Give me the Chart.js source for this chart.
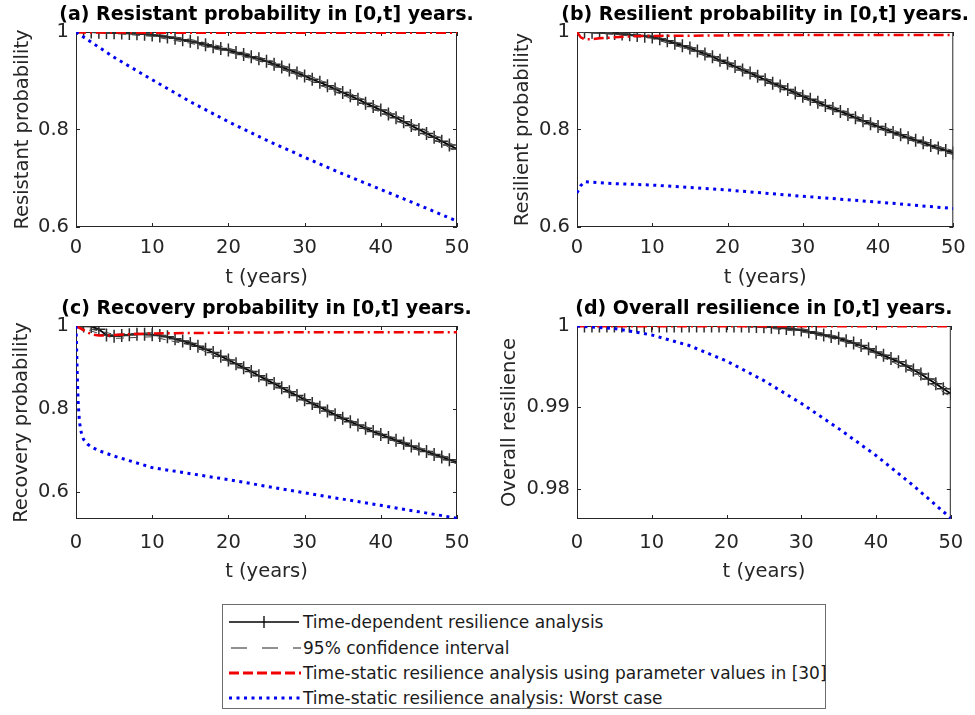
<!DOCTYPE html>
<html>
<head>
<meta charset="utf-8">
<script src="https://cdn.jsdelivr.net/npm/chart.js@4.4.1/dist/chart.umd.min.js"></script>
<style>
  body { margin: 0; background: #fff; width: 975px; height: 715px; position: relative; overflow: hidden; font-family: "DejaVu Sans", sans-serif; }
  .panel { position: absolute; }
  #legend { position: absolute; left: 222px; top: 604px; width: 604px; height: 105px; border: 1px solid #6b6b6b; box-sizing: border-box; background: #fff; }
  #legend .row { position: absolute; left: 5px; height: 25px; display: flex; align-items: center; font-size: 17px; color: #1a1a1a; white-space: nowrap; }
  #legend svg { margin-right: 1px; }
</style>
</head>
<body>
<div class="panel" style="left:0;top:0"><canvas id="chartA" width="487" height="295"></canvas></div>
<div class="panel" style="left:487px;top:0"><canvas id="chartB" width="488" height="295"></canvas></div>
<div class="panel" style="left:0;top:295px"><canvas id="chartC" width="487" height="295"></canvas></div>
<div class="panel" style="left:487px;top:295px"><canvas id="chartD" width="488" height="295"></canvas></div>

<div id="legend">
  <div class="row" style="top:4px">
    <svg width="74" height="14"><line x1="1" y1="7" x2="71" y2="7" stroke="#000" stroke-width="1.3"/><line x1="36" y1="1" x2="36" y2="13" stroke="#000" stroke-width="1.3"/></svg>
    <span>Time-dependent resilience analysis</span>
  </div>
  <div class="row" style="top:30px">
    <svg width="74" height="14"><line x1="3" y1="7" x2="73" y2="7" stroke="#222" stroke-width="1.2" stroke-dasharray="16 15"/></svg>
    <span>95% confidence interval</span>
  </div>
  <div class="row" style="top:55px">
    <svg width="74" height="14"><line x1="1" y1="7" x2="73" y2="7" stroke="#f00000" stroke-width="3" stroke-dasharray="10 4"/></svg>
    <span>Time-static resilience analysis using parameter values in [30]</span>
  </div>
  <div class="row" style="top:80px">
    <svg width="74" height="14"><line x1="1" y1="7" x2="73" y2="7" stroke="#0000f0" stroke-width="3" stroke-dasharray="3 4.5"/></svg>
    <span>Time-static resilience analysis: Worst case</span>
  </div>
</div>

<script>
// ---- data ----
const years = [0, 1, 2, 3, 4, 5, 6, 7, 8, 9, 10, 11, 12, 13, 14, 15, 16, 17, 18, 19, 20,
  21, 22, 23, 24, 25, 26, 27, 28, 29, 30, 31, 32, 33, 34, 35, 36, 37, 38, 39, 40,
  41, 42, 43, 44, 45, 46, 47, 48, 49, 50];
const fiveYears = [0, 5, 10, 15, 20, 25, 30, 35, 40, 45, 50];
const xTicks = [0, 10, 20, 30, 40, 50];
const probTicks = [0.6, 0.8, 1];
const overallTicks = [0.98, 0.99, 1];

// (a) resistant probability
const resistantTD = [1.000, 1.000, 1.000, 0.9995, 0.999, 0.9985, 0.998, 0.997, 0.9965, 0.9955,
  0.994, 0.992, 0.990, 0.987, 0.984, 0.981, 0.978, 0.974, 0.970, 0.966,
  0.963, 0.958, 0.954, 0.949, 0.945, 0.940, 0.934, 0.928, 0.922, 0.916,
  0.910, 0.903, 0.897, 0.890, 0.883, 0.876, 0.869, 0.862, 0.854, 0.847,
  0.840, 0.832, 0.824, 0.816, 0.808, 0.800, 0.792, 0.784, 0.776, 0.768,
  0.760];
const resistantUpper = [1.000, 1.000, 0.997, 0.985, 0.967, 0.944, 0.915, 0.881, 0.845, 0.805, 0.765];
const resistantLower = [1.000, 0.997, 0.991, 0.977, 0.959, 0.936, 0.905, 0.871, 0.835, 0.795, 0.755];
const resistantStatic = [0.999, 0.9988, 0.9987, 0.9986, 0.9986, 0.9985, 0.9985, 0.9985, 0.9984, 0.9984, 0.9984];
const resistantWorst = [1.000, 0.948, 0.902, 0.857, 0.816, 0.778, 0.743, 0.709, 0.677, 0.645, 0.612];

// (b) resilient probability
const resilientTD = [1.000, 1.000, 0.9995, 0.999, 0.998, 0.997, 0.996, 0.9945, 0.993, 0.9915,
  0.990, 0.986, 0.982, 0.977, 0.972, 0.967, 0.961, 0.955, 0.949, 0.942,
  0.936, 0.929, 0.922, 0.916, 0.909, 0.902, 0.895, 0.889, 0.882, 0.875,
  0.868, 0.862, 0.856, 0.849, 0.843, 0.837, 0.831, 0.824, 0.818, 0.812,
  0.806, 0.800, 0.794, 0.789, 0.783, 0.778, 0.773, 0.767, 0.762, 0.757,
  0.752];
const resilientUpper = [1.000, 0.999, 0.993, 0.971, 0.940, 0.906, 0.872, 0.841, 0.810, 0.782, 0.756];
const resilientLower = [1.000, 0.995, 0.987, 0.963, 0.932, 0.898, 0.864, 0.833, 0.802, 0.774, 0.748];
const resilientStaticT = [0, 0.5, 1, 2, 3, 5, 7, 10, 20, 30, 40, 50];
const resilientStatic = [1.000, 0.989, 0.985, 0.985, 0.987, 0.989, 0.991, 0.992, 0.993, 0.994, 0.994, 0.994];
const resilientWorstT = [0, 0.5, 1, 2, 5, 10, 20, 30, 40, 50];
const resilientWorst = [0.670, 0.685, 0.693, 0.692, 0.689, 0.686, 0.676, 0.663, 0.651, 0.638];

// (c) recovery probability
const recoveryTD = [1.000, 1.000, 0.999, 0.992, 0.978, 0.975, 0.977, 0.979, 0.980, 0.980,
  0.979, 0.977, 0.974, 0.969, 0.964, 0.958, 0.951, 0.944, 0.936, 0.927,
  0.918, 0.909, 0.899, 0.890, 0.880, 0.870, 0.861, 0.851, 0.841, 0.832,
  0.822, 0.813, 0.804, 0.795, 0.786, 0.777, 0.769, 0.761, 0.753, 0.745,
  0.738, 0.731, 0.724, 0.717, 0.710, 0.703, 0.697, 0.690, 0.684, 0.677,
  0.671];
const recoveryUpper = [1.000, 0.980, 0.984, 0.962, 0.922, 0.874, 0.826, 0.781, 0.742, 0.707, 0.675];
const recoveryLower = [1.000, 0.970, 0.974, 0.954, 0.914, 0.866, 0.818, 0.773, 0.734, 0.699, 0.667];
const recoveryStaticT = [0, 1, 2, 3, 4, 5, 7, 10, 20, 30, 40, 50];
const recoveryStatic = [1.000, 0.990, 0.980, 0.977, 0.977, 0.978, 0.980, 0.982, 0.984, 0.985, 0.985, 0.985];
const recoveryWorstT = [0, 0.1, 0.2, 0.3, 0.45, 0.6, 0.8, 1, 1.5, 2, 3, 5, 10, 20, 30, 40, 50];
const recoveryWorst = [1.000, 0.930, 0.860, 0.810, 0.770, 0.750, 0.735, 0.726, 0.715, 0.708, 0.699, 0.686, 0.658, 0.629, 0.597, 0.567, 0.536];

// (d) overall resilience
const overallTD = [1.000, 1.000, 1.000, 1.000, 1.000, 1.000, 1.000, 1.000, 1.000, 1.000,
  1.000, 1.000, 1.000, 1.000, 1.000, 1.000, 1.000, 1.000, 1.000, 1.000,
  1.000, 1.000, 1.000, 0.99998, 0.99995, 0.9999, 0.99985, 0.9998, 0.9997, 0.9996,
  0.9995, 0.9993, 0.9991, 0.9989, 0.9987, 0.9985, 0.9982, 0.9979, 0.9976, 0.9972,
  0.9968, 0.9964, 0.9960, 0.9956, 0.9951, 0.9946, 0.9941, 0.9935, 0.9929, 0.9923,
  0.9917];
const overallUpper = [1.000, 1.000, 1.000, 1.000, 1.000, 1.000, 0.9997, 0.9987, 0.9970, 0.9949, 0.9921];
const overallLower = [1.000, 1.000, 1.000, 1.000, 1.000, 0.9998, 0.9993, 0.9983, 0.9966, 0.9943, 0.9913];
const overallStatic = [0.99998, 0.99998, 0.99998, 0.99998, 0.99998, 0.99998, 0.99998, 0.99998, 0.99998, 0.99998, 0.99998];
const overallWorst = [1.0000, 0.9997, 0.9989, 0.9976, 0.9957, 0.9933, 0.9905, 0.9874, 0.9841, 0.9804, 0.9764];

// ---- drawing ----
const FONT = "'DejaVu Sans', sans-serif";
const AXIS_COLOR = "#262626";

function pts(xs, ys) {
  return xs.map((x, i) => ({ x: x, y: ys[i] }));
}

// MATLAB-style box with inward ticks on all four sides, plus bold title
const axesBox = {
  id: "axesBox",
  beforeDatasetsDraw(chart, args, opts) {
    const { ctx, chartArea: a, scales: { x, y } } = chart;
    ctx.save();
    ctx.strokeStyle = AXIS_COLOR;
    ctx.lineWidth = 1;
    ctx.strokeRect(a.left + 0.5, a.top + 0.5, a.right - a.left - 1, a.bottom - a.top - 1);
    ctx.beginPath();
    x.ticks.forEach(t => {
      const px = Math.round(x.getPixelForValue(t.value)) + 0.5;
      ctx.moveTo(px, a.bottom); ctx.lineTo(px, a.bottom - 4);
      ctx.moveTo(px, a.top); ctx.lineTo(px, a.top + 4);
    });
    y.ticks.forEach(t => {
      const py = Math.round(y.getPixelForValue(t.value)) + 0.5;
      ctx.moveTo(a.left, py); ctx.lineTo(a.left + 4, py);
      ctx.moveTo(a.right, py); ctx.lineTo(a.right - 4, py);
    });
    ctx.stroke();
    ctx.restore();
  },
  afterDraw(chart, args, opts) {
    const { ctx, chartArea: a } = chart;
    ctx.save();
    ctx.font = "bold 19px " + FONT;
    ctx.fillStyle = "#000";
    ctx.textAlign = "center";
    ctx.textBaseline = "middle";
    ctx.fillText(opts.text, (a.left + a.right) / 2, opts.y);
    ctx.restore();
  }
};

function makeChart(p) {
  const tickFont = { family: FONT, size: 19.5, lineHeight: 1.2 };
  new Chart(document.getElementById(p.id), {
    type: "line",
    data: {
      datasets: [
        { label: "Time-static resilience analysis: Worst case", data: pts(p.worstT, p.worst),
          borderColor: "#0000f0", borderWidth: 3, borderDash: [3, 4.5], pointRadius: 0, order: 0 },
        { label: "Time-static resilience analysis using parameter values in [30]", data: pts(p.staticT, p.stat),
          borderColor: "#f00000", borderWidth: 2.5, borderDash: [10, 4, 2, 4], pointRadius: 0, order: 1 },
        { label: "95% confidence interval", data: pts(fiveYears, p.upper),
          borderColor: "#444", borderWidth: 1, borderDash: [8, 6], pointRadius: 0, order: 2 },
        { label: "95% confidence interval", data: pts(fiveYears, p.lower),
          borderColor: "#444", borderWidth: 1, borderDash: [8, 6], pointRadius: 0, order: 2 },
        { label: "Time-dependent resilience analysis", data: pts(years, p.td),
          borderColor: "#000", borderWidth: 1.8, pointStyle: "cross", pointRadius: 6.5,
          pointBorderColor: "#2a2a2a", pointBorderWidth: 1.5, order: 3 }
      ]
    },
    options: {
      responsive: false,
      animation: false,
      devicePixelRatio: 1,
      events: [],
      layout: { padding: { left: 0, top: p.area.top, right: p.w - p.area.right, bottom: 0 } },
      plugins: {
        legend: { display: false },
        tooltip: { enabled: false },
        axesBox: { text: p.title, y: p.titleY }
      },
      scales: {
        x: {
          type: "linear", min: 0, max: 50,
          afterBuildTicks: s => { s.ticks = xTicks.map(v => ({ value: v })); },
          afterFit: s => { s.height = p.h - p.area.bottom; },
          grid: { display: false, drawTicks: false },
          border: { display: false },
          ticks: { padding: p.xTickPad, color: AXIS_COLOR, font: tickFont, maxRotation: 0, autoSkip: false },
          title: { display: true, text: "t (years)", color: AXIS_COLOR, font: tickFont, padding: { top: 0, bottom: p.xLabelPad } }
        },
        y: {
          type: "linear", min: p.yMin, max: p.yMax,
          afterBuildTicks: s => { s.ticks = p.yTicks.map(v => ({ value: v })); },
          afterFit: s => { s.width = p.area.left; },
          grid: { display: false, drawTicks: false },
          border: { display: false },
          ticks: { padding: 7, color: AXIS_COLOR, font: tickFont, callback: v => String(v) },
          title: { display: true, text: p.ylabel, color: AXIS_COLOR, font: tickFont, padding: { top: p.yLabelPad, bottom: 0 } }
        }
      }
    },
    plugins: [axesBox]
  });
}

makeChart({
  id: "chartA", title: "(a) Resistant probability in [0,t] years.", ylabel: "Resistant probability",
  td: resistantTD, upper: resistantUpper, lower: resistantLower,
  staticT: fiveYears, stat: resistantStatic, worstT: fiveYears, worst: resistantWorst,
  yMin: 0.6, yMax: 1, yTicks: probTicks,
  w: 487, h: 295, area: { left: 76, right: 457, top: 32, bottom: 227 },
  yLabelPad: 10.8, xTickPad: 9.3, xLabelPad: 5.3, titleY: 15.5
});
makeChart({
  id: "chartB", title: "(b) Resilient probability in [0,t] years.", ylabel: "Resilient probability",
  td: resilientTD, upper: resilientUpper, lower: resilientLower,
  staticT: resilientStaticT, stat: resilientStatic, worstT: resilientWorstT, worst: resilientWorst,
  yMin: 0.6, yMax: 1, yTicks: probTicks,
  w: 488, h: 295, area: { left: 90, right: 473, top: 32, bottom: 227 },
  yLabelPad: 24.3, xTickPad: 9.3, xLabelPad: 5.3, titleY: 15.5
});
makeChart({
  id: "chartC", title: "(c) Recovery probability in [0,t] years.", ylabel: "Recovery probability",
  td: recoveryTD, upper: recoveryUpper, lower: recoveryLower,
  staticT: recoveryStaticT, stat: recoveryStatic, worstT: recoveryWorstT, worst: recoveryWorst,
  yMin: 0.534, yMax: 1, yTicks: probTicks,
  w: 487, h: 295, area: { left: 76, right: 457, top: 31, bottom: 224 },
  yLabelPad: 10.3, xTickPad: 11.8, xLabelPad: 6.3, titleY: 14.5
});
makeChart({
  id: "chartD", title: "(d) Overall resilience in [0,t] years.", ylabel: "Overall resilience",
  td: overallTD, upper: overallUpper, lower: overallLower,
  staticT: fiveYears, stat: overallStatic, worstT: fiveYears, worst: overallWorst,
  yMin: 0.9763, yMax: 1, yTicks: overallTicks,
  w: 488, h: 295, area: { left: 90, right: 473, top: 31, bottom: 224 },
  yLabelPad: 11.3, xTickPad: 11.8, xLabelPad: 6.3, titleY: 14.5
});
</script>
</body>
</html>
